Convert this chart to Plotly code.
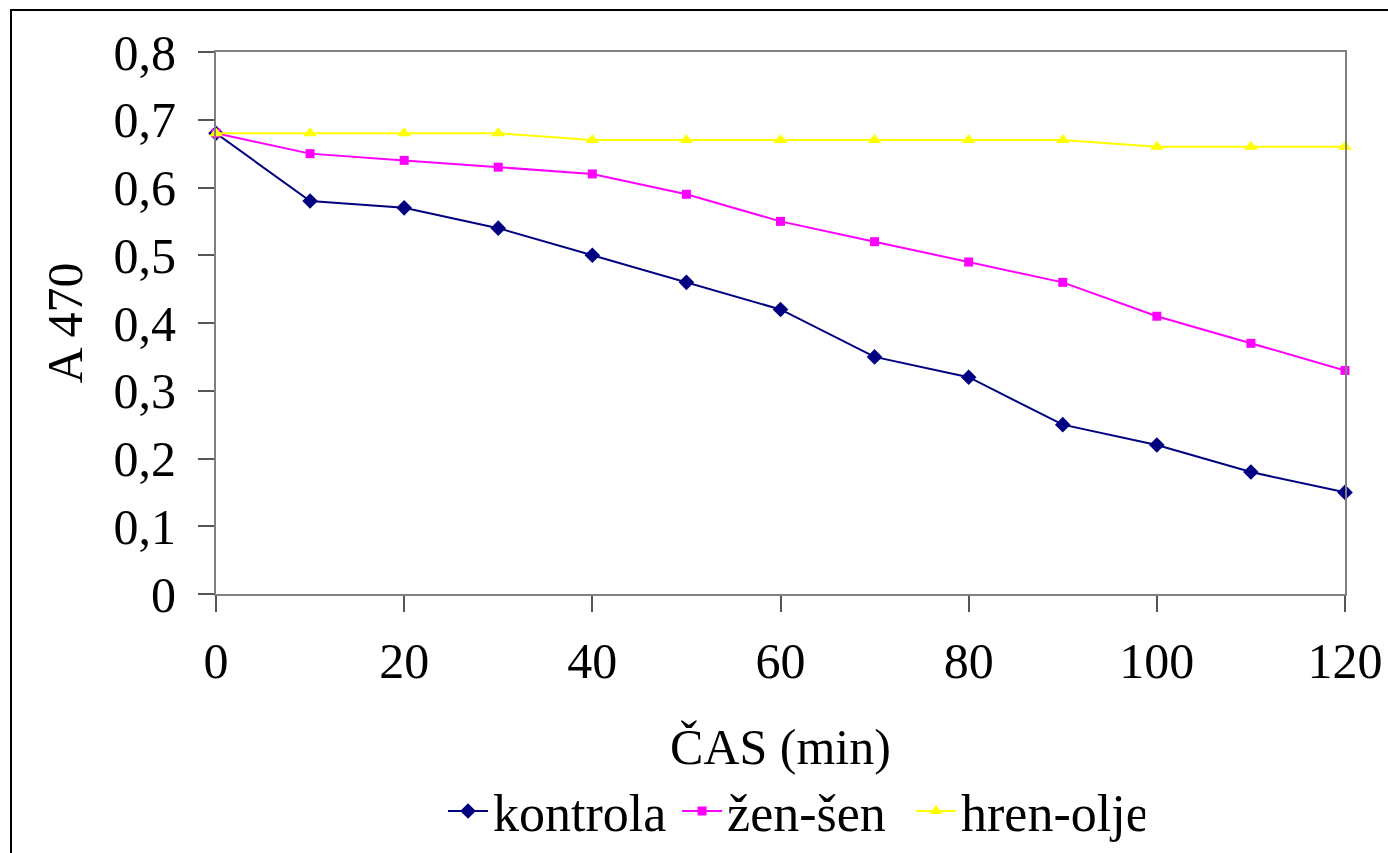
import plotly.graph_objects as go

cas = [0, 10, 20, 30, 40, 50, 60, 70, 80, 90, 100, 110, 120]
kontrola = [0.68, 0.58, 0.57, 0.54, 0.50, 0.46, 0.42, 0.35, 0.32, 0.25, 0.22, 0.18, 0.15]
zen_sen = [0.68, 0.65, 0.64, 0.63, 0.62, 0.59, 0.55, 0.52, 0.49, 0.46, 0.41, 0.37, 0.33]
hren_olje = [0.68, 0.68, 0.68, 0.68, 0.67, 0.67, 0.67, 0.67, 0.67, 0.67, 0.66, 0.66, 0.66]

y_tickvals = [0, 0.1, 0.2, 0.3, 0.4, 0.5, 0.6, 0.7, 0.8]
y_ticktext = ["0", "0,1", "0,2", "0,3", "0,4", "0,5", "0,6", "0,7", "0,8"]
x_tickvals = [0, 20, 40, 60, 80, 100, 120]

FONT = "Liberation Serif, Times New Roman, serif"
W, H = 1388, 853
L, R, T, B = 216, 43, 52, 259
pw, ph = W - L - R, H - T - B

fig = go.Figure()
fig.add_trace(go.Scatter(x=cas, y=kontrola, name="kontrola", mode="lines+markers",
                         line=dict(color="#000080", width=2),
                         marker=dict(symbol="diamond", size=12, color="#000080"),
                         cliponaxis=False))
fig.add_trace(go.Scatter(x=cas, y=zen_sen, name="žen-šen", mode="lines+markers",
                         line=dict(color="#FF00FF", width=2),
                         marker=dict(symbol="square", size=9, color="#FF00FF"),
                         cliponaxis=False))
fig.add_trace(go.Scatter(x=cas, y=hren_olje, name="hren-olje", mode="lines+markers",
                         line=dict(color="#FFFF00", width=2),
                         marker=dict(symbol="triangle-up", size=12, color="#FFFF00"),
                         cliponaxis=False))

# outer frame of the chart
fig.add_shape(type="rect", xref="paper", yref="paper",
              x0=(11 - L) / pw, x1=(W + 20 - L) / pw,
              y0=(H - B - (H + 20)) / ph, y1=(H - B - 10) / ph,
              line=dict(color="black", width=2), layer="below")

fig.update_layout(
    width=W, height=H,
    margin=dict(l=L, r=R, t=T, b=B, autoexpand=False),
    paper_bgcolor="white", plot_bgcolor="white",
    font=dict(family=FONT, size=50, color="black"),
    showlegend=True,
    legend=dict(orientation="h", x=0.512, xanchor="center", y=-0.326, yanchor="top",
                font=dict(family=FONT, size=52, color="black"),
                itemwidth=40, entrywidth=179, entrywidthmode="pixels",
                tracegroupgap=0, bgcolor="rgba(0,0,0,0)"),
    xaxis=dict(range=[0, 120], tickvals=x_tickvals, ticks="outside", ticklen=16,
               tickcolor="#555555", tickwidth=1.5, automargin=False,
               showline=True, linecolor="#808080", linewidth=2, mirror=True,
               showgrid=False, zeroline=False,
               tickfont=dict(family=FONT, size=50),
               ticklabelstandoff=6,
               title=dict(text="ČAS (min)", font=dict(family=FONT, size=50), standoff=41)),
    yaxis=dict(range=[0, 0.8], tickvals=y_tickvals, ticktext=y_ticktext,
               ticks="outside", ticklen=16, tickcolor="#555555", tickwidth=1.5,
               automargin=False,
               showline=True, linecolor="#808080", linewidth=2, mirror=True,
               showgrid=False, zeroline=False,
               tickfont=dict(family=FONT, size=50),
               ticklabelstandoff=12,
               title=dict(text="A 470", font=dict(family=FONT, size=50), standoff=15)),
)

fig.write_html("out.html")
